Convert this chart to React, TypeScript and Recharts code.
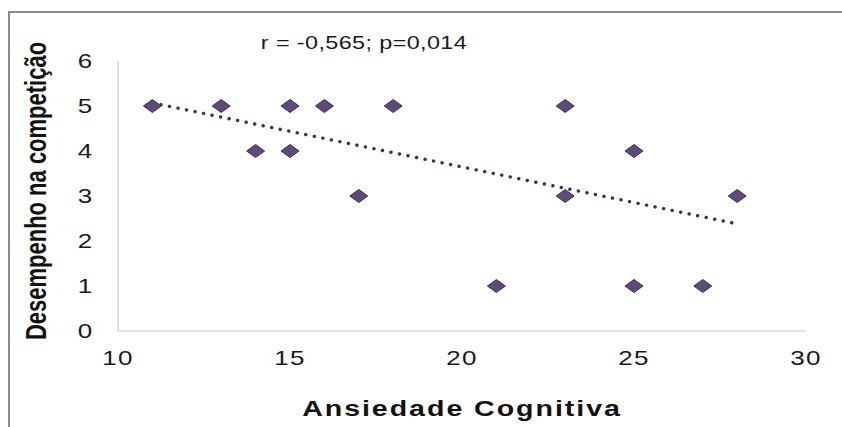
import React from "react";
import { ScatterChart, Scatter, XAxis, YAxis, Label } from "recharts";

const ansiedade = [11, 13, 14, 15, 15, 16, 17, 18, 21, 23, 23, 25, 25, 27, 28];
const desempenho = [5, 5, 4, 5, 4, 5, 3, 5, 1, 5, 3, 4, 1, 1, 3];
const trendX = [11, 28];
const trendY = [5.07, 2.38];
const xTicks = [10, 15, 20, 25, 30];
const yTicks = [0, 1, 2, 3, 4, 5, 6];
const titleText = "r = -0,565; p=0,014";
const xTitle = "Ansiedade Cognitiva";
const yTitle = "Desempenho na competição";

const points = ansiedade.map((x, i) => ({ x, y: desempenho[i] }));
const trend = trendX.map((x, i) => ({ x, y: trendY[i] }));

const FONT = "'Liberation Sans', Arial, sans-serif";
const SX = 1.3;

const Diamond = (props: any) => {
  const { cx, cy } = props;
  if (cx == null || cy == null) return <g />;
  const hw = 9;
  const hh = 6.5;
  return (
    <polygon
      points={`${cx - hw},${cy} ${cx},${cy - hh} ${cx + hw},${cy} ${cx},${cy + hh}`}
      fill="#604A7B"
      stroke="#3F3151"
      strokeWidth={1}
    />
  );
};

const XTick = (props: any) => {
  const { x, payload } = props;
  return (
    <text
      transform={`translate(${x},${358}) scale(${SX},1)`}
      textAnchor="middle"
      dominantBaseline="central"
      fontFamily={FONT}
      fontSize={20}
      letterSpacing={1}
      fill="#1a1a1a"
    >
      {payload.value}
    </text>
  );
};

const YTick = (props: any) => {
  const { y, payload } = props;
  return (
    <text
      transform={`translate(${85},${y}) scale(${SX},1)`}
      textAnchor="middle"
      dominantBaseline="central"
      fontFamily={FONT}
      fontSize={20}
      fill="#1a1a1a"
    >
      {payload.value}
    </text>
  );
};

export default function App() {
  return (
    <div
      style={{
        position: "absolute",
        left: 0,
        top: 0,
        width: 842,
        height: 427,
        background: "#fff",
        overflow: "hidden",
      }}
    >
      <div
        style={{
          position: "absolute",
          left: 8,
          top: 11,
          width: 840,
          height: 420,
          borderTop: "2px solid #8a8a8a",
          borderLeft: "2px solid #8a8a8a",
          boxSizing: "border-box",
        }}
      />
      <div style={{ position: "absolute", left: 0, top: 0 }}>
        <ScatterChart
          width={842}
          height={427}
          margin={{ top: 61, right: 36, bottom: 0, left: 0 }}
        >
          <XAxis
            type="number"
            dataKey="x"
            domain={[10, 30]}
            ticks={xTicks}
            interval={0}
            height={96}
            axisLine={{ stroke: "#d9d9d9", strokeWidth: 1.5 }}
            tickLine={false}
            tick={<XTick />}
          >
            <Label
              content={(p: any) => {
                const vb = p.viewBox || {};
                const cx = (vb.x ?? 118) + (vb.width ?? 688) / 2;
                return (
                  <text
                    transform={`translate(${cx},${408}) scale(${SX},1)`}
                    textAnchor="middle"
                    dominantBaseline="central"
                    fontFamily={FONT}
                    fontWeight="bold"
                    fontSize={22}
                    letterSpacing={1.5}
                    fill="#111"
                  >
                    {xTitle}
                  </text>
                );
              }}
            />
          </XAxis>
          <YAxis
            type="number"
            dataKey="y"
            domain={[0, 6]}
            ticks={yTicks}
            interval={0}
            width={118}
            axisLine={{ stroke: "#d9d9d9", strokeWidth: 1.5 }}
            tickLine={false}
            tick={<YTick />}
          >
            <Label
              content={(p: any) => {
                const vb = p.viewBox || {};
                const cy = (vb.y ?? 61) + (vb.height ?? 270) / 2;
                return (
                  <g>
                    <text
                      transform={`translate(${36},${cy - 5}) scale(${SX},1) rotate(-90)`}
                      textAnchor="middle"
                      dominantBaseline="central"
                      fontFamily={FONT}
                      fontWeight="bold"
                      fontSize={22}
                      fill="#111"
                    >
                      {yTitle}
                    </text>
                    <text
                      transform={`translate(${364},${43}) scale(${SX},1)`}
                      textAnchor="middle"
                      dominantBaseline="central"
                      fontFamily={FONT}
                      fontSize={18}
                      letterSpacing={0.3}
                      fill="#1a1a1a"
                    >
                      {titleText}
                    </text>
                  </g>
                );
              }}
            />
          </YAxis>
          <Scatter
            data={trend}
            isAnimationActive={false}
            line={{
              stroke: "#3F3151",
              strokeWidth: 3.4,
              strokeDasharray: "0.1 8.6",
              strokeLinecap: "round",
            }}
            lineType="joint"
            shape={() => <g />}
          />
          <Scatter
            data={points}
            isAnimationActive={false}
            shape={<Diamond />}
          />
        </ScatterChart>
      </div>
    </div>
  );
}
